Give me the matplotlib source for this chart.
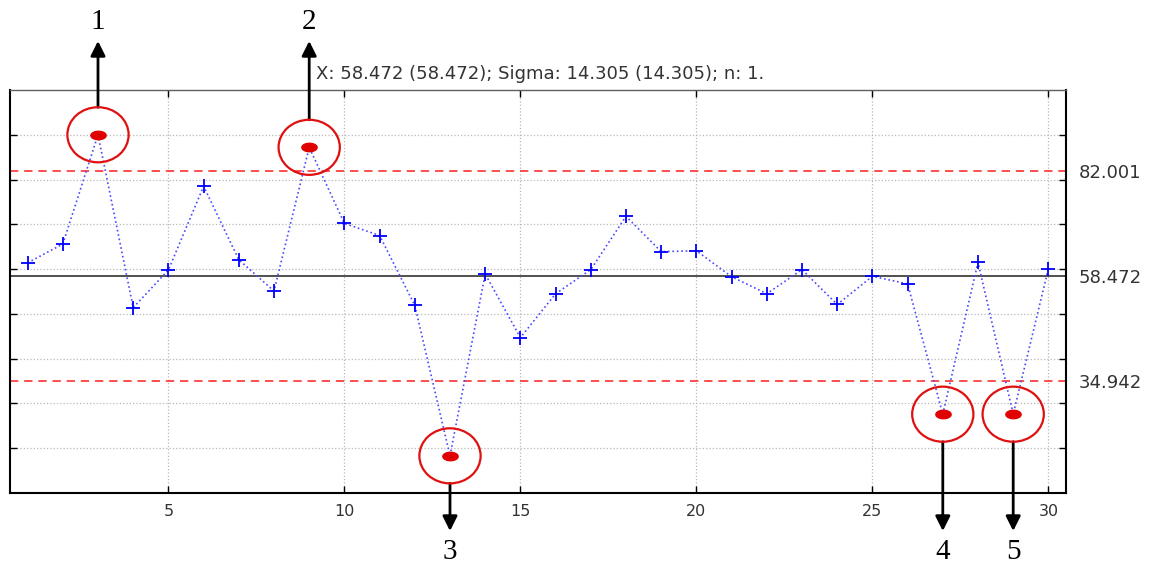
import numpy as np
import matplotlib.pyplot as plt
from matplotlib.patches import Ellipse
from matplotlib.ticker import FixedLocator, FixedFormatter, NullFormatter
from matplotlib.transforms import blended_transform_factory

# Datos del grafico de control (X, n=1)
obs = np.arange(1, 31)
valores = [61.4, 65.6, 90.0, 51.4, 59.8, 78.5, 62.1, 55.1, 87.2, 70.2,
           67.5, 51.9, 18.3, 58.9, 44.7, 54.5, 59.9, 71.8, 63.9, 64.1,
           58.3, 54.5, 59.9, 52.1, 58.4, 56.7, 27.6, 61.5, 27.6, 60.1]
media = 58.472
lsc = 82.001
lic = 34.942
sigma = 14.305
xticks = [5, 10, 15, 20, 25, 30]
yticks = [20, 30, 40, 50, 60, 70, 80, 90]
etiquetas = ['1', '2', '3', '4', '5']

titulo = 'X: %.3f (%.3f); Sigma: %.3f (%.3f); n: 1.' % (media, media, sigma, sigma)

y = np.array(valores)
fuera = (y > lsc) | (y < lic)

fig = plt.figure(figsize=(11.56, 5.68), dpi=100)
ax = fig.add_axes([10 / 1156, 1 - 493 / 568, 1056 / 1156, 403 / 568])

# lineas de control
ax.axhline(media, color='#202020', lw=1.1, zorder=2)
ax.axhline(lsc, color='#ff3030', lw=1.2, ls=(0, (5, 3.5)), zorder=2)
ax.axhline(lic, color='#ff3030', lw=1.2, ls=(0, (5, 3.5)), zorder=2)

# serie
ax.plot(obs, y, color='#4a4aff', lw=1.2, ls=':', zorder=3)
ax.plot(obs[~fuera], y[~fuera], ls='none', marker='+', ms=10, mew=1.3,
        color='#0000ff', zorder=4)

t = np.linspace(0, 2 * np.pi, 40)
punto = list(zip(np.cos(t), 0.55 * np.sin(t)))
ax.plot(obs[fuera], y[fuera], ls='none', marker=punto, ms=11,
        color='#e00000', zorder=5)

ax.set_xlim(0.5, 30.5)
ax.set_ylim(10, 100)

# circulos y flechas alrededor de los puntos fuera de control
w_circ = 1.74
h_circ = 12.3
trans = blended_transform_factory(ax.transData, fig.transFigure)
for i, (xi, yi) in enumerate(zip(obs[fuera], y[fuera])):
    ax.add_patch(Ellipse((xi, yi), w_circ, h_circ, fill=False,
                         ec='#e01010', lw=1.6, zorder=6, clip_on=False))
    if yi > media:
        borde = yi + h_circ / 2
        punta = 1 - 41 / 568
        ytxt = 1 - 22 / 568
    else:
        borde = yi - h_circ / 2
        punta = 1 - 531 / 568
        ytxt = 1 - 552 / 568
    ax.annotate('', xy=(xi, punta), xycoords=trans,
                xytext=(xi, borde), textcoords='data',
                arrowprops=dict(arrowstyle='-|>', color='black', lw=2,
                                mutation_scale=22, shrinkA=0, shrinkB=0))
    ax.text(xi, ytxt, etiquetas[i], transform=trans, ha='center', va='center',
            fontsize=21, family='Liberation Serif', color='black')

# ejes
ax.set_xticks(xticks)
ax.set_yticks(yticks)
ax.yaxis.set_major_formatter(NullFormatter())
ax.yaxis.set_minor_locator(FixedLocator([lic, media, lsc]))
ax.yaxis.set_minor_formatter(FixedFormatter(['%.3f' % lic, '%.3f' % media, '%.3f' % lsc]))
ax.tick_params(which='major', direction='in', length=5, width=1,
               top=True, right=True, left=True, bottom=True,
               labelsize=11.5, labelcolor='#333333', pad=8)
ax.tick_params(axis='y', which='minor', length=0, left=False, right=True,
               labelleft=False, labelright=True, labelsize=13,
               labelcolor='#333333', pad=9)
for lab in ax.get_xticklabels() + ax.get_yticklabels(minor=True):
    lab.set_family('DejaVu Sans')

ax.grid(True, which='major', color='#b8b8b8', ls=':', lw=0.9)
for s in ['left', 'bottom', 'right']:
    ax.spines[s].set_linewidth(1.5)
    ax.spines[s].set_color('black')
ax.spines['top'].set_linewidth(1.0)
ax.spines['top'].set_color('#606060')

fig.text(316 / 1156, 1 - 74 / 568, titulo, fontsize=13, color='#333333',
         ha='left', va='center', family='DejaVu Sans')

fig.savefig('out.png', dpi=100)
